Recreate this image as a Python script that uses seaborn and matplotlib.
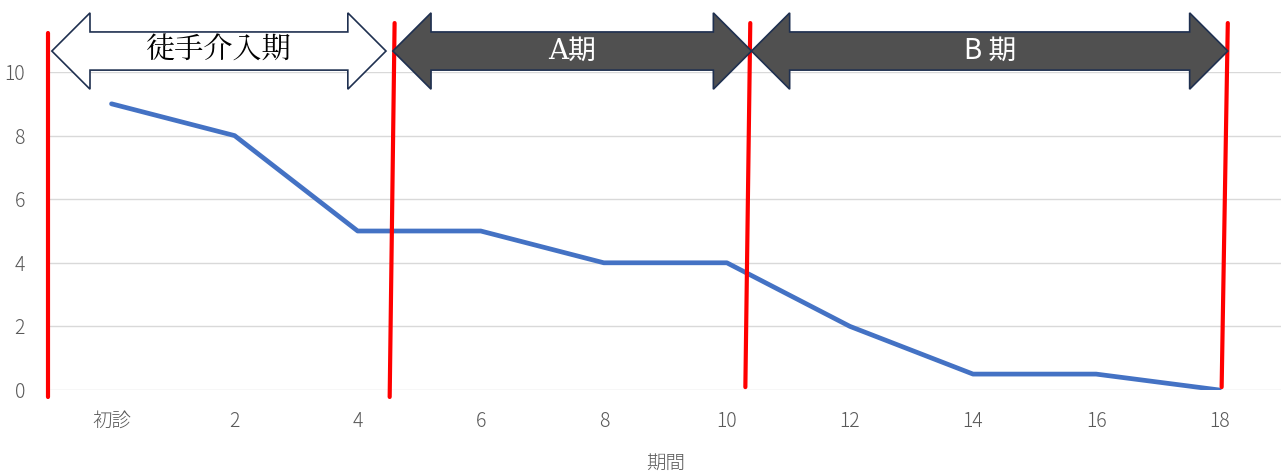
import numpy as np
import pandas as pd
import matplotlib
matplotlib.use('Agg')
import matplotlib.pyplot as plt
import seaborn as sns
from matplotlib.patches import Polygon

# Data
periods = ['初診', '2', '4', '6', '8', '10', '12', '14', '16', '18']
scores = [9, 8, 5, 5, 4, 4, 2, 0.5, 0.5, 0]

# phase boundaries (category index units, bottom / top of the red lines)
bound_bottom = [-0.52, 2.26, 5.15, 9.02]
bound_top = [-0.52, 2.30, 5.19, 9.07]
bound_ylow = [-0.22, -0.22, 0.09, 0.09]
bound_yhigh = [11.23, 11.54, 11.54, 11.54]

# phase arrows
phase_names = ['徒手介入期', 'A期', 'B 期']
phase_start = [-0.485, 2.286, 5.20]
phase_end = [2.23, 5.20, 9.07]
phase_fill = ['white', '#505050', '#505050']
phase_text = ['black', 'white', 'white']
phase_font = [['Noto Serif CJK JP', 'Noto Sans CJK JP'],
              ['DejaVu Serif', 'Noto Sans CJK JP'], ['Noto Sans CJK JP']]
phase_size = [21, 20, 20]

df = pd.DataFrame({'pos': np.arange(len(periods)), 'score': scores})

sns.set_style('white')
plt.rcParams['font.family'] = ['Noto Sans CJK JP', 'DejaVu Sans']

fig = plt.figure(figsize=(12.82, 4.76), dpi=100)
ax = fig.add_axes([0.039, 0.1807, 0.96, 0.668])

sns.lineplot(data=df, x='pos', y='score', color='#4472C4', linewidth=3.4, ax=ax, zorder=3)

ax.set_xlim(-0.5, 9.5)
ax.set_ylim(0, 10)
ax.set_yticks(range(0, 11, 2))
ax.set_xticks(df['pos'])
ax.set_xticklabels(periods)
ax.grid(axis='y', color='#d9d9d9', linewidth=1)
for s in ax.spines.values():
    s.set_visible(False)
ax.tick_params(axis='both', length=0, labelsize=14, colors='#595959')
for lab in ax.get_xticklabels() + ax.get_yticklabels():
    lab.set_fontweight('light')
ax.tick_params(axis='y', pad=18)
ax.tick_params(axis='x', pad=15)
ax.set_xlabel('期間', fontsize=14, color='#595959', labelpad=15, fontweight='light')
ax.set_ylabel('')

# red boundary lines
for xb, xt, yl, yh in zip(bound_bottom, bound_top, bound_ylow, bound_yhigh):
    ax.plot([xb, xt], [yl, yh], color='red', linewidth=3, clip_on=False, zorder=4)

# block double arrows
yc = 10.66
shaft = 0.6
head = 1.2
hl = 0.31
for x0, x1, fc, tc, fam, fs, name in zip(phase_start, phase_end, phase_fill,
                                          phase_text, phase_font, phase_size, phase_names):
    pts = [(x0, yc), (x0 + hl, yc + head), (x0 + hl, yc + shaft),
           (x1 - hl, yc + shaft), (x1 - hl, yc + head), (x1, yc),
           (x1 - hl, yc - head), (x1 - hl, yc - shaft), (x0 + hl, yc - shaft),
           (x0 + hl, yc - head)]
    ax.add_patch(Polygon(pts, closed=True, facecolor=fc, edgecolor='#1f3050',
                         linewidth=1.2, clip_on=False, zorder=5))
    ax.text((x0 + x1) / 2, yc, name, ha='center', va='center', fontsize=fs,
            color=tc, family=fam, zorder=6, clip_on=False)

fig.savefig('out.png', dpi=100)
